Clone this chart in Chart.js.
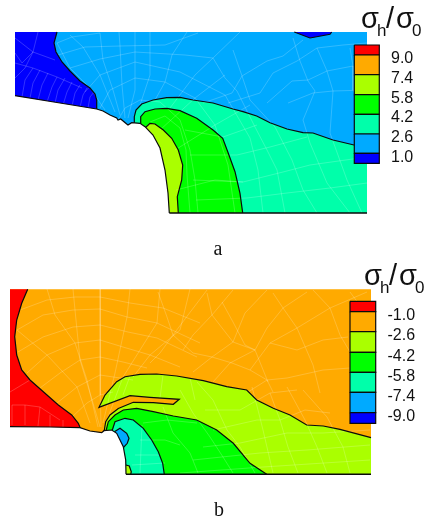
<!DOCTYPE html>
<html><head><meta charset="utf-8">
<style>html,body{margin:0;padding:0;background:#fff}canvas{display:block}</style>
<script src="https://cdn.jsdelivr.net/npm/chart.js@4"></script></head>
<body><canvas id="c" width="426" height="526"></canvas>
<script>
// Colour levels
const RED='#ff0000',ORANGE='#ffaa00',LIME='#aaff00',GREEN='#00ff00',AQUA='#00ffaa',SKY='#00aaff',NAVY='#0000ff';
const legendColors=[RED,ORANGE,LIME,GREEN,AQUA,SKY,NAVY];
// Panel a
const plateA=[[15,32],[367,32],[367,213],[15,213]];
const navyA=[[57,32],[54,43],[56,52],[62,62],[70,71],[80,81],[90,88],[95,94],[96.7,100],[96.7,112],[15,100],[15,32]];
const navyTopA=[[294.3,32],[310,38],[330,34.3],[331.7,32]];
const aquaA=[[134.3,128],[134.3,116.7],[136,110],[141.7,104],[153,100],[166.7,97.7],[180,97.3],[193,100],[213,103],[233,109],[243,111.7],[256.7,116],[270,122.7],[287,129],[303,132.7],[313,133],[333,140],[354,145],[367,147],[367,213],[134,213]];
const greenA=[[140,128],[140.7,116.7],[145,111.7],[155,109],[166.7,108.3],[180,110.7],[196.7,118.3],[213,130],[222.7,138.3],[228.3,153.3],[235,171.7],[240,193.3],[242.7,213],[140,213]];
const limeA=[[145,128],[150,123.3],[155,124],[163.3,130],[171.7,138.3],[178.3,150],[182.7,165],[181.7,180],[177.3,196.7],[178.3,213],[145,213]];
const notchA=[[15,95.7],[60,103],[96.7,109],[103,111],[110,115],[116.7,118],[118,120],[120.7,119],[126.7,124],[128,125],[131.7,122.7],[140,123.3],[145,126.7],[153,135],[160,148],[165,170],[168,193],[169.3,213]];
const floorA=[[169.3,213],[367,213]];
const legendEdgesA=[45,55,74.7,94.7,114.3,134,153.3,163.3];
const legendXA=[354.3,379.3];
const legendLabelsA=['9.0','7.4','5.8','4.2','2.6','1.0'];
// Panel b
const plateB=[[10,289.3],[371,289.3],[371,474.3],[10,474.3]];
const redB=[[27.7,289.3],[21.7,303.3],[16.7,320],[14.7,336.7],[16.7,355],[21.7,370],[30,380],[43.3,391.7],[58.3,405],[71.7,415],[78.3,423.3],[80.7,429],[10,429],[10,289.3]];
const limeB=[[371,474.3],[110,474.3],[104,432],[105.7,421.7],[110,415],[118.3,408.5],[133.3,402.3],[153.3,402.7],[173.3,404.3],[179.3,399.3],[150,397.3],[130,395.7],[99,407.3],[105,395],[116.7,381.7],[125,376.7],[140,374.3],[156.7,374],[176.7,376],[203.3,380.7],[226.7,386.7],[246.7,390],[256.7,400],[273.3,408.3],[290,415],[306.7,425],[323.3,426],[340,429.3],[371,437.7]];
const greenB=[[105.7,432],[108.3,421.7],[115,415],[123.3,410],[136.7,408.3],[153.3,411.7],[173.3,416],[196.7,420],[216.7,430],[233.3,443.3],[250,463.3],[266.7,474.3],[110,474.3]];
const aquaB=[[111.7,432],[115,421.7],[125,418.3],[133.3,420],[143.3,428.3],[151.7,440],[158.3,451.7],[162.7,463.3],[164.3,474.3],[112,474.3]];
const skyB=[[114,432],[120,428.3],[126.7,433.3],[129,438.3],[127.3,443.3],[123,448]];
const spotB=[[126,465],[129.3,466],[131.3,471.7],[130.7,474.3],[126,474.3]];
const notchB=[[10,426.7],[50,427],[80,427.7],[90,431],[101.7,432.7],[104,430.7],[111.7,430],[116.7,433.3],[123.3,446.7],[125.7,460],[126,474.3]];
const floorB=[[126,474.3],[371,474.3]];
const legendEdgesB=[301.3,311.7,331.7,352.3,372.3,392.3,412.7,423.3];
const legendXB=[350,375.7];
const legendLabelsB=['-1.0','-2.6','-4.2','-5.8','-7.4','-9.0'];
// Element mesh, panel a
const meshA=[
 [[118,120],[125,108],[140,100],[160,102],[180,120],[190,150],[195,180],[198,213]],
 [[100,108],[110,90],[135,78],[165,82],[195,98],[215,125],[228,165],[235,213]],
 [[85,92],[100,75],[135,62],[180,72],[225,95],[250,138],[258,170],[263,213]],
 [[70,68],[100,59],[135,52],[185,55],[213,58],[225,78],[237,91],[255,127],[267,150],[277,170],[285,213]],
 [[58,55],[85,47],[120,46],[165,45],[198,33]],
 [[57,43],[72,37],[100,33]],
 [[233,50],[242,76],[250,100],[275,127],[292,160],[303,190],[317,213]],
 [[293,38],[300,61],[308,81],[315,91],[303,120],[310,143],[327,183],[350,213]],
 [[317,48],[327,71],[333,91],[330,133],[347,180],[362,213]],
 [[350,48],[353,66],[353,90],[367,120]],
 [[150,122],[165,116],[180,128],[186,150],[187,175],[190,213]],
 [[128,118],[135,90],[135,62],[135,32]],
 [[125,118],[122,85],[120,46],[119,32]],
 [[120,115],[113,90],[103,60],[100,33]],
 [[115,112],[100,75],[83,47],[70,35]],
 [[105,110],[90,88],[70,68],[57,43]],
 [[140,105],[150,75],[150,43],[150,32]],
 [[155,100],[165,82],[172,55],[187,32]],
 [[170,108],[195,75],[213,58],[240,32]],
 [[203,103],[232,93],[242,76],[267,61],[283,56],[303,40]],
 [[228,103],[260,93],[273,73],[297,61],[317,48],[343,45],[367,43]],
 [[267,103],[292,81],[308,80],[327,71],[353,66]],
 [[288,103],[313,93],[333,91],[367,90]],
 [[193,180],[243,182],[283,172],[310,165],[367,157]],
 [[196,200],[247,198],[287,193],[330,188],[367,183]],
 [[190,155],[237,155],[270,147],[307,137]],
 [[185,130],[223,137],[257,125]],
 [[176,190],[215,180],[243,182]],
 [[160,130],[195,98],[225,75]],
 [[175,150],[215,125],[250,105]],
 [[15,38],[33,52],[55,60]],
 [[15,63],[33,68],[57,77],[82,88]],
 [[15,53],[22,63],[33,52],[38,32]],
 [[15,78],[25,68],[33,52]],
 [[22,97],[25,80],[33,68]],
 [[30,98],[33,83],[40,70]],
 [[38,100],[42,85],[48,73]],
 [[47,102],[52,87],[57,77]],
 [[55,103],[58,90],[65,78]],
 [[63,105],[67,92],[72,82]],
 [[72,106],[75,93],[80,85]],
 [[80,107],[83,95],[87,88]],
 [[88,108],[90,97],[94,92]]
];
// Element mesh, panel b
const meshB=[
 [[20,310],[47,300],[75,297],[100,297],[130,303],[163,308],[200,323]],
 [[17,330],[43,315],[73,310],[100,309],[127,317],[157,323],[200,343]],
 [[18,352],[43,337],[73,327],[100,325],[128,332],[157,338],[197,357]],
 [[27,373],[47,355],[75,343],[100,340],[123,347],[150,355],[180,367]],
 [[40,388],[60,373],[80,360],[100,357],[123,362],[147,368]],
 [[57,403],[77,387],[100,375],[120,378],[133,380]],
 [[72,417],[87,403],[100,395],[113,392]],
 [[47,289],[55,315],[75,343],[87,380],[98,427]],
 [[73,289],[75,310],[80,360],[93,403],[100,427]],
 [[100,289],[100.5,340],[100,395],[101,427]],
 [[130,289],[127,317],[115,373],[103,423]],
 [[160,289],[157,323],[123,377],[107,420]],
 [[190,289],[180,330],[150,355],[133,377]],
 [[17,330],[47,355],[77,387],[90,423]],
 [[10,392],[30,380]],
 [[12,405],[25,405],[40,407],[60,420]],
 [[12,425],[12,405]],[[25,425],[25,405]],[[38,426],[40,407]],[[50,427],[50,415]],[[63,427],[63,420]],
 [[207,290],[188,315],[173,335],[160,353],[150,363]],
 [[233,290],[212,315],[193,335],[183,350]],
 [[267,290],[245,313],[233,342],[212,357],[193,372]],
 [[307,292],[283,308],[267,328],[255,350],[230,363],[213,382]],
 [[367,292],[330,308],[297,328],[270,343],[250,370]],
 [[348,337],[323,340],[297,350],[270,343]],
 [[350,368],[323,370],[287,378],[267,380],[248,392]],
 [[158,292],[167,317],[173,335],[193,353],[212,357],[232,363],[250,370],[267,380],[273,392]],
 [[207,293],[212,315],[233,342],[255,350]],
 [[222,302],[233,322],[245,345],[255,350],[268,382]],
 [[273,293],[283,308],[297,328],[313,365],[320,393]],
 [[313,290],[330,308],[340,335],[350,352],[358,372],[368,395]],
 [[350,292],[367,315]],
 [[252,387],[258,410],[263,430],[273,473]],
 [[270,393],[280,420],[288,447],[298,473]],
 [[287,387],[305,420],[317,447],[327,473]],
 [[303,390],[327,417],[343,447],[350,473]],
 [[197,382],[213,400],[227,430],[240,447],[255,473]],
 [[180,390],[193,413],[210,437],[223,457],[233,473]],
 [[163,407],[173,433],[190,453],[198,473]],
 [[205,410],[240,410],[270,393],[297,390]],
 [[213,430],[257,420],[280,420],[305,410],[330,413]],
 [[203,447],[240,443],[287,433],[323,433],[370,430]],
 [[193,460],[260,453],[307,450],[370,445]],
 [[180,473],[263,467],[370,460]],
 [[143,423],[167,420],[197,423]],
 [[130,376],[123,395]],[[163,375],[160,398]],[[190,378],[195,400]],
 [[140,440],[165,440],[180,445]],[[135,455],[160,455]],[[132,465],[165,463]],[[142,425],[140,473]]
];
const toPts=a=>a.map(p=>({x:p[0],y:p[1]}));
const ds=[];
const common={showLine:true,pointRadius:0,tension:0};
function area(pts,color,from,to){
 ds.push({...common,data:toPts(pts),fill:'shape',backgroundColor:color,borderWidth:0,borderColor:color});
 if(from!==undefined)line(pts.slice(from,to));
}
function line(pts,w=1.2){ds.push({...common,data:toPts(pts),fill:false,borderColor:'#0a0a0a',borderWidth:w});}
function mesh(lines){const d=[];lines.forEach(l=>{d.push(...toPts(l));d.push({x:NaN,y:NaN});});
 ds.push({...common,data:d,fill:false,borderColor:'rgba(255,255,255,0.22)',borderWidth:0.9,spanGaps:false});}
function legend(edges,xs){legendColors.forEach((c,i)=>{const r=[[xs[0],edges[i]],[xs[1],edges[i]],[xs[1],edges[i+1]],[xs[0],edges[i+1]],[xs[0],edges[i]]];area(r,c,0);});}
function mask(notch,lowY){area(notch.concat([[notch[notch.length-1][0],lowY],[0,lowY],[0,notch[0][1]]]),'#ffffff');}
// panel a
area(plateA,SKY);area(navyA,NAVY);area(navyTopA,NAVY);
area(aquaA,AQUA);area(greenA,GREEN);area(limeA,LIME);
mesh(meshA);
line(navyA.slice(0,10));line(navyTopA);line(aquaA.slice(0,19));line(greenA.slice(0,13));line(limeA.slice(0,10));
mask(notchA,214);line(notchA);line(floorA,1.5);legend(legendEdgesA,legendXA);
// panel b
area(plateB,ORANGE);area(redB,RED);area(limeB,LIME);area(greenB,GREEN);area(aquaB,AQUA);area(skyB,SKY);area(spotB,LIME);
mesh(meshB);
line(redB.slice(0,12));line(limeB.slice(2));line(greenB.slice(0,12));line(aquaB.slice(0,9));line(skyB);line(spotB.slice(0,4));
mask(notchB,476);line(notchB);line(floorB,1.5);legend(legendEdgesB,legendXB);
ds.forEach((d,i)=>d.order=ds.length-i);

const textPlugin={id:'texts',afterDraw(chart){
 const c=chart.ctx,X=v=>chart.scales.x.getPixelForValue(v),Y=v=>chart.scales.y.getPixelForValue(v);
 const put=(t,x,y,font,align='left')=>{c.font=font;c.textAlign=align;c.textBaseline='alphabetic';c.fillStyle='#111';c.fillText(t,X(x),Y(y));};
 const sans='"Liberation Sans",Arial,sans-serif',serif='"Liberation Serif","Times New Roman",serif';
 c.save();
 legendLabelsA.forEach((t,i)=>put(t,391,[63,83,103,122,142,162][i],'16px '+sans));
 legendLabelsB.forEach((t,i)=>put(t,387.5,[320,340,361,381,401,421][i],'16px '+sans));
 [[361,28,377,36,386,28,396,28,412,36],[364,285,380,293,389,285,399,285,415,293]].forEach(p=>{
  put('σ',p[0],p[1],'29px '+sans);put('h',p[2],p[3],'17px '+sans);put('/',p[4],p[5],'29px '+sans);put('σ',p[6],p[7],'29px '+sans);put('0',p[8],p[9],'17px '+sans);});
 put('a',218,255,'20px '+serif,'center');put('b',219,516,'20px '+serif,'center');
 c.restore();}};
const hidden=(axis,min,max,reverse)=>({type:'linear',axis,display:false,min,max,reverse});
new Chart(document.getElementById('c'),{type:'scatter',data:{datasets:ds},plugins:[textPlugin],options:{
 responsive:false,animation:false,events:[],layout:{padding:0},
 plugins:{legend:{display:false},tooltip:{enabled:false}},
 scales:{x:hidden('x',0,426,false),y:hidden('y',0,526,true)}}});
</script></body></html>
